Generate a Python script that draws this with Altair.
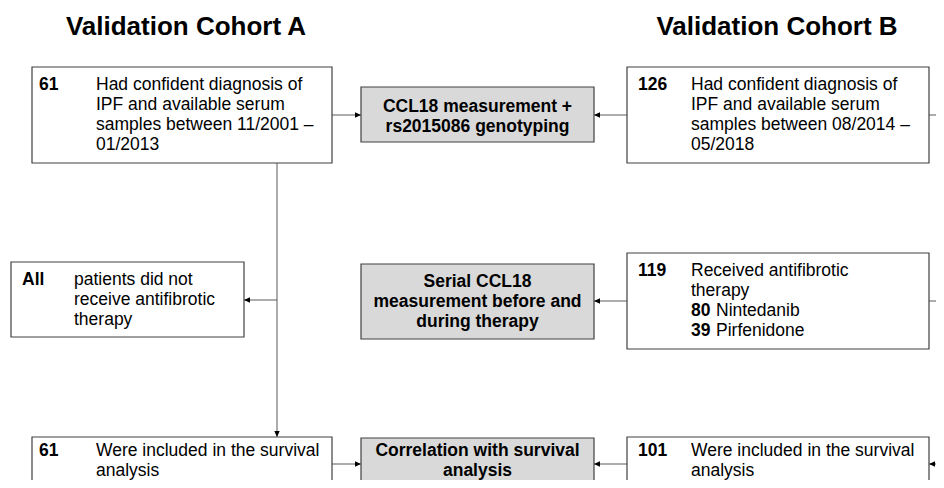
import altair as alt
import pandas as pd

FONT = "Arial, Liberation Sans, sans-serif"

# ---- content ----
titles = ["Validation Cohort A", "Validation Cohort B"]
title_x = [186, 777]
title_y = [35, 35]

# boxes (white = cohort steps, grey = analysis steps)
box_x1 = [32, 627, 11, 627, 32, 627, 361, 361, 361]
box_x2 = [332, 929, 244, 929, 332, 929, 594, 594, 594]
box_y1 = [67, 67, 262, 253, 437, 437, 87, 264, 438]
box_y2 = [163, 163, 337, 349, 537, 537, 142, 339, 497]
box_fill = ["#ffffff"] * 6 + ["#d9d9d9"] * 3

# bold counts
num_text = ["61", "126", "All", "119", "80", "39", "61", "101"]
num_x = [39, 638, 22, 638, 691, 691, 39, 638]
num_y = [90, 90, 285, 276, 316, 336, 456, 456]

# plain text lines
line_text = [
    "Had confident diagnosis of", "IPF and available serum", "samples between 11/2001 –", "01/2013",
    "Had confident diagnosis of", "IPF and available serum", "samples between 08/2014 –", "05/2018",
    "patients did not", "receive antifibrotic", "therapy",
    "Received antifibrotic", "therapy", "Nintedanib", "Pirfenidone",
    "Were included in the survival", "analysis",
    "Were included in the survival", "analysis",
]
line_x = [96, 96, 96, 96,
          691, 691, 691, 691,
          74, 74, 74,
          691, 691, 716, 716,
          96, 96,
          691, 691]
line_y = [90, 110, 130, 150,
          90, 110, 130, 150,
          285, 305, 325,
          276, 296, 316, 336,
          456, 476,
          456, 476]

# grey box (centered, bold) text
grey_text = ["CCL18 measurement +", "rs2015086 genotyping",
             "Serial CCL18", "measurement before and", "during therapy",
             "Correlation with survival", "analysis"]
grey_x = [477.5] * 7
grey_y = [112, 132, 287, 307, 327, 456, 476]

# connectors
con_x1 = [332, 594, 929, 277, 244, 594, 929, 332, 594, 929]
con_x2 = [361, 627, 944, 277, 277, 627, 944, 361, 627, 944]
con_y1 = [115, 115, 115, 163, 300, 301, 301, 464, 464, 464]
con_y2 = [115, 115, 115, 437, 300, 301, 301, 464, 464, 464]

# arrow heads (tip positions)
arr_x = [361, 361, 594, 594, 594, 244, 929, 277]
arr_y = [115, 464, 115, 301, 464, 300, 464, 437]
arr_dir = ["right", "right", "left", "left", "left", "left", "left", "down"]

xs = alt.Scale(domain=[8, 936], nice=False, zero=False)
ys = alt.Scale(domain=[8, 480], nice=False, zero=False, reverse=True)


def X(f="x"):
    return alt.X(f"{f}:Q", scale=xs, axis=None)


def Y(f="y"):
    return alt.Y(f"{f}:Q", scale=ys, axis=None)


boxes = pd.DataFrame({"x": box_x1, "x2": box_x2, "y": box_y1, "y2": box_y2, "fill": box_fill})
rects = alt.Chart(boxes).mark_rect(stroke="#404040", strokeWidth=1.2, clip=True).encode(
    x=X(), x2="x2:Q", y=Y(), y2="y2:Q", fill=alt.Fill("fill:N", scale=None)
)

cons = pd.DataFrame({"x": con_x1, "x2": con_x2, "y": con_y1, "y2": con_y2})
rules = alt.Chart(cons).mark_rule(color="#5a5a5a", strokeWidth=1, clip=True).encode(
    x=X(), x2="x2:Q", y=Y(), y2="y2:Q"
)

shapes = {
    "right": "M0,0L-1,-0.45L-1,0.45Z",
    "left": "M0,0L1,-0.45L1,0.45Z",
    "down": "M0,0L-0.45,-1L0.45,-1Z",
}
arrow_layers = []
for d, shp in shapes.items():
    df = pd.DataFrame({"x": [a for a, k in zip(arr_x, arr_dir) if k == d],
                       "y": [b for b, k in zip(arr_y, arr_dir) if k == d]})
    arrow_layers.append(
        alt.Chart(df).mark_point(shape=shp, size=144, filled=True, color="#000000",
                                 opacity=1, strokeWidth=0, clip=True).encode(x=X(), y=Y())
    )

tdf = pd.DataFrame({"x": title_x, "y": title_y, "t": titles})
title_layer = alt.Chart(tdf).mark_text(font=FONT, fontSize=26, fontWeight="bold", align="center",
                                       baseline="alphabetic", color="#000000").encode(
    x=X(), y=Y(), text="t:N")

ndf = pd.DataFrame({"x": num_x, "y": num_y, "t": num_text})
num_layer = alt.Chart(ndf).mark_text(font=FONT, fontSize=17.5, fontWeight="bold", align="left",
                                     baseline="alphabetic", color="#000000", clip=True).encode(
    x=X(), y=Y(), text="t:N")

ldf = pd.DataFrame({"x": line_x, "y": line_y, "t": line_text})
line_layer = alt.Chart(ldf).mark_text(font=FONT, fontSize=17.5, align="left",
                                      baseline="alphabetic", color="#000000", clip=True).encode(
    x=X(), y=Y(), text="t:N")

gdf = pd.DataFrame({"x": grey_x, "y": grey_y, "t": grey_text})
grey_layer = alt.Chart(gdf).mark_text(font=FONT, fontSize=17.5, fontWeight="bold", align="center",
                                      baseline="alphabetic", color="#000000", clip=True).encode(
    x=X(), y=Y(), text="t:N")

chart = alt.layer(rules, *arrow_layers, rects, title_layer, num_layer, line_layer, grey_layer).properties(
    width=928, height=472, padding=0, background="#ffffff",
    autosize=alt.AutoSizeParams(type="none")
).configure_view(strokeWidth=0, stroke="transparent")

chart.save("out.html", embed_options={"renderer": "svg", "actions": False})
